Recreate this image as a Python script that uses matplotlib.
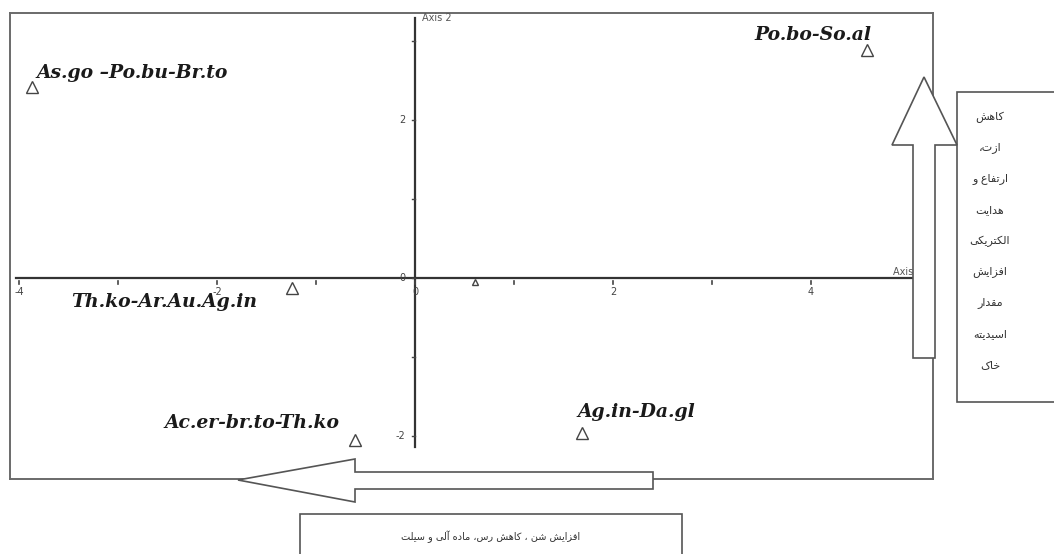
import matplotlib
matplotlib.use("Agg")
import matplotlib.pyplot as plt
from matplotlib.patches import Polygon, Rectangle

# ── Data ─────────────────────────────────────────────────────────────────────
GROUPS = ["As.go \u2013Po.bu-Br.to", "Po.bo-So.al", "Th.ko-Ar.Au.Ag.in",
          "Ac.er-br.to-Th.ko", "Ag.in-Da.gl", ""]
AXIS1 = [-3.87, 4.57, -1.24, -0.61, 1.69, 0.61]
AXIS2 = [2.42, 2.89, -0.13, -2.05, -1.96, -0.05]
MARKER_SIZES = [9, 9, 9, 9, 9, 5]

X_TICKS = [-4, -3, -2, -1, 0, 1, 2, 3, 4]
X_TICK_LABELS = ["-4", "", "-2", "", "0", "", "2", "", "4"]
Y_TICKS = [-2, -1, 0, 1, 2, 3]
Y_TICK_LABELS = ["-2", "", "0", "", "2", ""]

RIGHT_NOTE = ["کاهش", "ازت،", "ارتفاع و", "هدایت", "الکتریکی",
              "افزایش", "مقدار", "اسیدیته", "خاک"]
BOTTOM_NOTE = "افزایش شن ، کاهش رس، ماده آلی و سیلت"

# label offsets in pixels, alignment
LABEL_POS = [((5, 14), "left"), ((4, 15), "right"), ((-35, -14), "right"),
             ((-15, 17), "right"), ((-5, 21), "left"), ((0, 0), "left")]

W, H = 1054, 554

# ── Persian shaping (matplotlib has no complex text layout) ─────────────────
FORMS = {
    "ا": ("\uFE8D", "\uFE8E", None, None),
    "آ": ("\uFE81", "\uFE82", None, None),
    "ت": ("\uFE95", "\uFE96", "\uFE97", "\uFE98"),
    "خ": ("\uFEA5", "\uFEA6", "\uFEA7", "\uFEA8"),
    "د": ("\uFEA9", "\uFEAA", None, None),
    "ر": ("\uFEAD", "\uFEAE", None, None),
    "ز": ("\uFEAF", "\uFEB0", None, None),
    "س": ("\uFEB1", "\uFEB2", "\uFEB3", "\uFEB4"),
    "ش": ("\uFEB5", "\uFEB6", "\uFEB7", "\uFEB8"),
    "ع": ("\uFEC9", "\uFECA", "\uFECB", "\uFECC"),
    "ف": ("\uFED1", "\uFED2", "\uFED3", "\uFED4"),
    "ق": ("\uFED5", "\uFED6", "\uFED7", "\uFED8"),
    "ل": ("\uFEDD", "\uFEDE", "\uFEDF", "\uFEE0"),
    "م": ("\uFEE1", "\uFEE2", "\uFEE3", "\uFEE4"),
    "ن": ("\uFEE5", "\uFEE6", "\uFEE7", "\uFEE8"),
    "ه": ("\uFEE9", "\uFEEA", "\uFEEB", "\uFEEC"),
    "و": ("\uFEED", "\uFEEE", None, None),
    "ی": ("\uFBFC", "\uFBFD", "\uFBFE", "\uFBFF"),
    "ک": ("\uFB8E", "\uFB8F", "\uFB90", "\uFB91"),
}


def shape(s):
    out = []
    for i, c in enumerate(s):
        if c not in FORMS:
            out.append(c)
            continue
        prev = s[i - 1] if i > 0 else ""
        nxt = s[i + 1] if i + 1 < len(s) else ""
        jp = prev in FORMS and FORMS[prev][2] is not None
        jn = FORMS[c][2] is not None and nxt in FORMS
        iso, fin, ini, med = FORMS[c]
        if jp and jn:
            out.append(med)
        elif jp:
            out.append(fin)
        elif jn:
            out.append(ini)
        else:
            out.append(iso)
    return "".join(reversed(out))


def px(x, y):
    # image pixel (y from top) -> figure fraction
    return (x / W, 1 - y / H)


# ── Figure ───────────────────────────────────────────────────────────────────
fig = plt.figure(figsize=(W / 100, H / 100), dpi=100)
fig.patch.set_facecolor("white")

left, right, top, bottom = 10, 933, 13, 479
ax = fig.add_axes([left / W, 1 - bottom / H, (right - left) / W, (bottom - top) / H])
ax.set_xlim((left - 415) / 99, (right - 415) / 99)
ax.set_ylim((278 - bottom) / 79, (278 - top) / 79)
ax.set_xticks([])
ax.set_yticks([])
for sp in ax.spines.values():
    sp.set_color("#6a6a6a")
    sp.set_linewidth(1.4)

# axis lines through the origin
xmin, xmax = ax.get_xlim()
ax.plot([-4.03, xmax], [0, 0], color="#333333", lw=1.6, zorder=2)
ax.plot([0, 0], [-2.14, 3.29], color="#333333", lw=1.6, zorder=2)

tick_font = dict(fontsize=7, color="#444444", family="DejaVu Sans")
for t, lab in zip(X_TICKS, X_TICK_LABELS):
    ax.plot([t, t], [-0.04, -0.07], color="#444444", lw=1.2, zorder=2)
    if lab:
        ax.annotate(lab, (t, 0), xytext=(0, -14), textcoords="offset pixels",
                    ha="center", va="center", **tick_font)
for t, lab in zip(Y_TICKS, Y_TICK_LABELS):
    ax.plot([-0.03, 0], [t, t], color="#444444", lw=1, zorder=2)
    if lab:
        ax.annotate(lab, (0, t), xytext=(-10, 0), textcoords="offset pixels",
                    ha="right", va="center", **tick_font)

ax.annotate("Axis 2", (0, 3.29), xytext=(7, 0), textcoords="offset pixels",
            ha="left", va="center", fontsize=7, color="#555555")
ax.annotate("Axis 1", (xmax, 0), xytext=(-40, 6), textcoords="offset pixels",
            ha="left", va="center", fontsize=7, color="#555555")

# sample groups
for x, y, ms in zip(AXIS1, AXIS2, MARKER_SIZES):
    ax.plot(x, y, marker="^", ms=ms, mfc="none", mec="#444444", mew=1.0,
            ls="none", zorder=3)

for name, x, y, (off, ha) in zip(GROUPS, AXIS1, AXIS2, LABEL_POS):
    if name:
        ax.annotate(name, (x, y), xytext=off, textcoords="offset pixels",
                    ha=ha, va="center", fontsize=13.5, fontweight="bold",
                    fontstyle="italic", family="DejaVu Serif", color="#1a1a1a")

# ── Arrows & note boxes ──────────────────────────────────────────────────────
arrow_style = dict(closed=True, facecolor="white", edgecolor="#555555",
                   linewidth=1.2, transform=fig.transFigure, zorder=10)

up_arrow = [(913, 358), (913, 145), (892, 145), (924, 77), (957, 145),
            (935, 145), (935, 358)]
fig.add_artist(Polygon([px(*p) for p in up_arrow], **arrow_style))

left_arrow = [(653, 472), (355, 472), (355, 459), (238, 480), (355, 502),
              (355, 489), (653, 489)]
fig.add_artist(Polygon([px(*p) for p in left_arrow], **arrow_style))

box_style = dict(facecolor="white", edgecolor="#555555", linewidth=1.2,
                 transform=fig.transFigure, zorder=9)
x0, y0 = px(957, 402)
x1, y1 = px(1060, 92)
fig.add_artist(Rectangle((x0, y0), x1 - x0, y1 - y0, **box_style))
x0, y0 = px(300, 560)
x1, y1 = px(682, 514)
fig.add_artist(Rectangle((x0, y0), x1 - x0, y1 - y0, **box_style))

for i, line in enumerate(RIGHT_NOTE):
    fx, fy = px(990, 117 + i * 31)
    fig.text(fx, fy, shape(line), ha="center", va="center", fontsize=8,
             color="#333333", family="DejaVu Sans", zorder=11)

fx, fy = px(491, 537)
fig.text(fx, fy, shape(BOTTOM_NOTE), ha="center", va="center", fontsize=7,
         color="#333333", family="DejaVu Sans", zorder=11)

fig.savefig("out.png", dpi=100, facecolor="white")
